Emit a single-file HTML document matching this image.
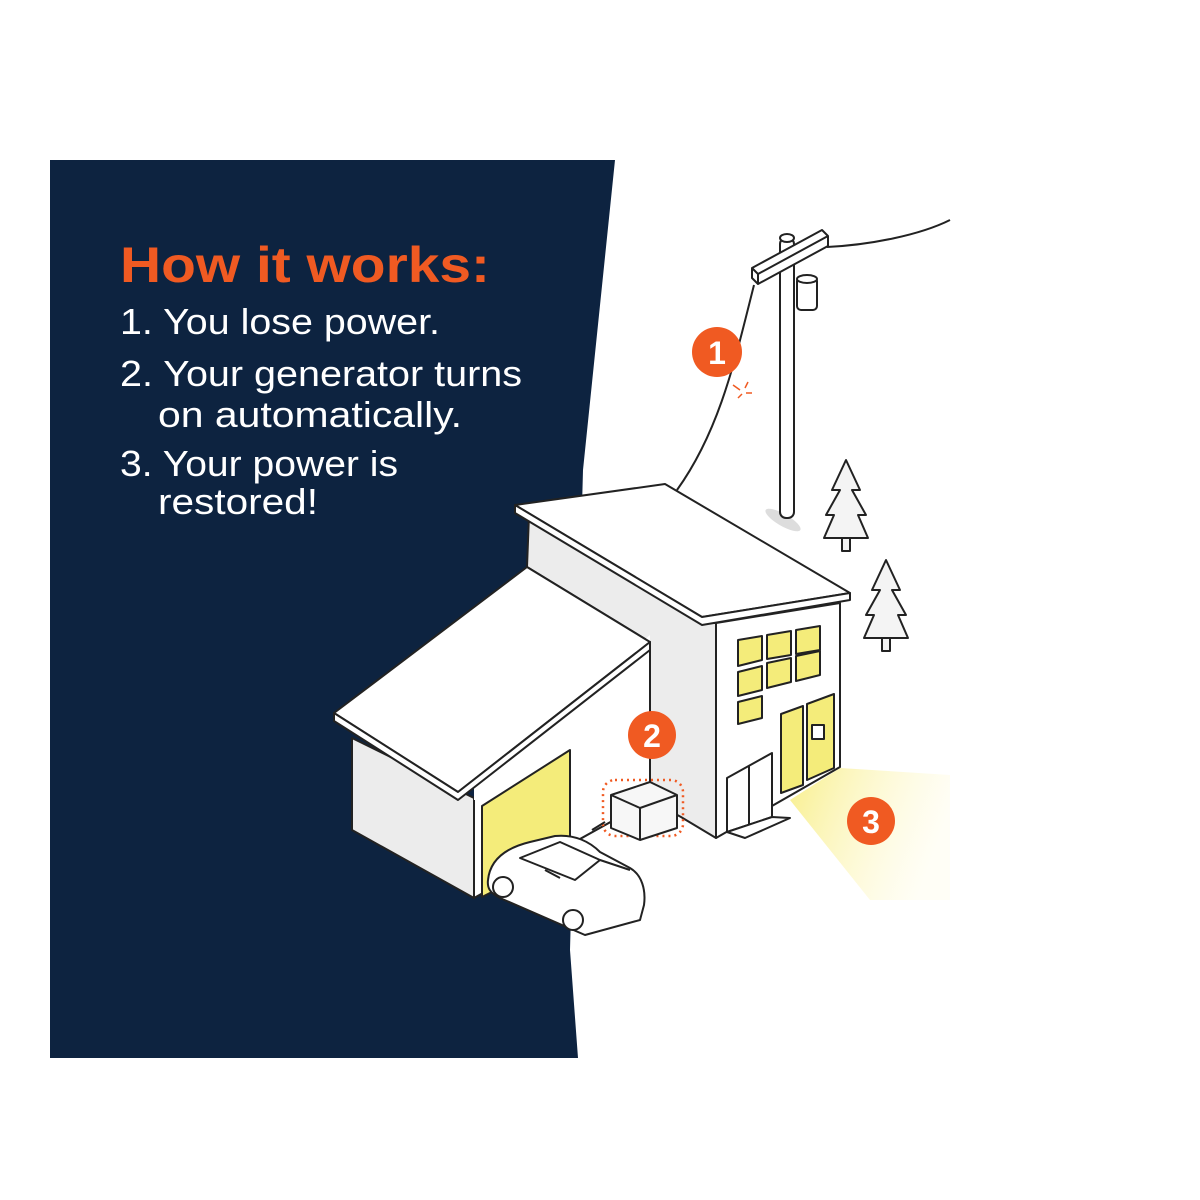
<!DOCTYPE html>
<html><head><meta charset="utf-8"><style>html,body{margin:0;padding:0;background:#fff}svg{display:block}</style></head>
<body>
<svg width="1200" height="1200" viewBox="0 0 1200 1200" xmlns="http://www.w3.org/2000/svg" font-family="Liberation Sans, sans-serif">
<defs>
<linearGradient id="beam" x1="0" y1="0" x2="1" y2="0.3">
<stop offset="0" stop-color="#f8ef8c"/><stop offset="1" stop-color="#fffbe0" stop-opacity="0.3"/>
</linearGradient>
</defs>
<rect width="1200" height="1200" fill="#fff"/>
<polygon points="50,160 615,160 583,470 570,950 578,1058 50,1058" fill="#0d2340"/>
<text x="120" y="282" font-size="50" font-weight="bold" fill="#f05a22" textLength="370" lengthAdjust="spacingAndGlyphs">How it works:</text>
<g fill="#fff" font-size="36">
<text x="120" y="334" textLength="320" lengthAdjust="spacingAndGlyphs">1. You lose power.</text>
<text x="120" y="386" textLength="402" lengthAdjust="spacingAndGlyphs">2. Your generator turns</text>
<text x="158" y="427" textLength="304" lengthAdjust="spacingAndGlyphs">on automatically.</text>
<text x="120" y="476" textLength="278" lengthAdjust="spacingAndGlyphs">3. Your power is</text>
<text x="158" y="514" textLength="160" lengthAdjust="spacingAndGlyphs">restored!</text>
</g>
<polygon points="790,800 840,768 950,775 950,900 870,900" fill="url(#beam)"/>
<g stroke="#222" stroke-width="2" stroke-linejoin="round" fill="none">
<path d="M754,285 C735,360 720,430 677,490"/>
<path d="M827,247 C870,245 920,235 950,220"/>
<ellipse cx="783" cy="520" rx="20" ry="6" fill="#ddd" stroke="none" transform="rotate(30 783 520)"/>
<rect x="780" y="238" width="14" height="280" rx="6" fill="#fff"/>
<ellipse cx="787" cy="238" rx="7" ry="4" fill="#fff"/>
<polygon points="752,268 822,230 828,236 828,246 758,284 752,278" fill="#fff"/>
<path d="M752,268 L758,274 L828,236 M758,274 L758,284"/>
<rect x="797" y="277" width="20" height="33" rx="4" fill="#fff"/>
<ellipse cx="807" cy="279" rx="10" ry="4" fill="#fff"/>
<g fill="#f4f4f4">
<rect x="842" y="535" width="8" height="16"/>
<path d="M846,460 L832,490 L840,490 L826,515 L834,515 L824,538 L868,538 L858,515 L866,515 L852,490 L860,490 Z"/>
<rect x="882" y="635" width="8" height="16"/>
<path d="M886,560 L872,590 L880,590 L866,615 L874,615 L864,638 L908,638 L898,615 L906,615 L892,590 L900,590 Z"/>
</g>
<polygon points="529,515 704,623 716,623 716,838 681,817 650,800 650,642 527,567" fill="#ececec"/>
<polygon points="716,623 840,603 840,767 716,838" fill="#fff"/>
<polygon points="515,505 665,484 850,593 702,617" fill="#fff"/>
<polygon points="515,505 702,617 850,593 850,600 702,625 515,513" fill="#fff"/>
<g fill="#f4ec7a">
<polygon points="738,640 762,636 762,660 738,666"/>
<polygon points="767,635 791,631 791,655 767,659"/>
<polygon points="796,630 820,626 820,650 796,654"/>
<polygon points="738,672 762,666 762,690 738,696"/>
<polygon points="767,663 791,658 791,682 767,688"/>
<polygon points="796,656 820,651 820,675 796,681"/>
<polygon points="738,702 762,696 762,718 738,724"/>
<polygon points="781,714 803,706 803,785 781,793"/>
<polygon points="807,704 834,694 834,768 807,780"/>
</g>
<rect x="812" y="725" width="12" height="14" fill="#fff"/>
<polygon points="727,778 772,753 772,817 727,832" fill="#fff"/>
<path d="M749,766 L749,824"/>
<polygon points="727,832 772,817 790,818 745,838 727,832" fill="#fff"/>
<polygon points="352,738 474,798 474,898 352,830" fill="#ececec"/>
<polygon points="474,785 650,635 650,800 474,898" fill="#fff" stroke="none"/>
<path d="M474,800 L474,898 L650,800 L650,650"/>
<polygon points="482,806 570,750 570,853 482,897" fill="#f4ec7a"/>
<polygon points="334,713 527,567 650,642 458,792" fill="#fff"/>
<polygon points="334,713 458,792 650,642 650,650 458,800 334,721" fill="#fff"/>
<rect x="603" y="780" width="80" height="56" rx="12" fill="none" stroke="#f05a22" stroke-dasharray="2 4" stroke-width="2.5"/>
<polygon points="611,795 650,782 677,795 677,828 640,840 611,828" fill="#f7f7f7"/>
<path d="M611,795 L640,808 L677,795 M640,808 L640,840"/>
<path d="M592,830 L605,822"/>
<path d="M488,880 C490,860 505,848 530,842 L555,836 C575,834 590,842 600,852 L630,868 C642,875 646,890 644,905 L640,920 L585,935 L500,898 C490,893 487,888 488,880 Z" fill="#fff"/>
<path d="M520,858 L560,842 L600,860 L575,880 Z"/>
<path d="M545,870 L560,878 M600,860 L630,870"/>
<circle cx="503" cy="887" r="10" fill="#fff"/>
<circle cx="573" cy="920" r="10" fill="#fff"/>
</g>
<g font-weight="bold" font-size="32" fill="#fff" text-anchor="middle">
<circle cx="717" cy="352" r="25" fill="#f05a22"/><text x="717" y="364">1</text>
<circle cx="652" cy="735" r="24" fill="#f05a22"/><text x="652" y="747">2</text>
<circle cx="871" cy="821" r="24" fill="#f05a22"/><text x="871" y="833">3</text>
</g>
<g stroke="#f05a22" stroke-width="1.5">
<path d="M733,385 L740,390 M748,382 L745,388 M752,393 L746,393 M738,398 L742,394"/>
</g>
</svg>
</body></html>
